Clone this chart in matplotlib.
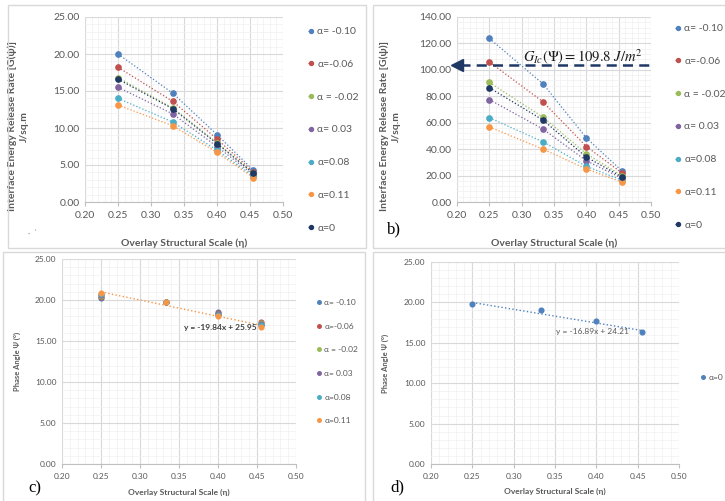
import matplotlib
matplotlib.use("Agg")
import matplotlib.pyplot as plt
from matplotlib.patches import Rectangle
from matplotlib.ticker import MultipleLocator, FormatStrFormatter

plt.rcParams['font.family'] = ['Lato', 'DejaVu Sans']
plt.rcParams['mathtext.fontset'] = 'stix'

# overlay structural scale (eta)
eta = [0.25, 0.333, 0.40, 0.455]

labels = ['α= -0.10', 'α=-0.06', 'α = -0.02', 'α= 0.03', 'α=0.08', 'α=0.11', 'α=0']
colors = ['#4F81BD', '#C0504D', '#9BBB59', '#8064A2', '#4BACC6', '#F79646', '#1F3864']

# a) G(psi), first loading case
g_a = [
    [20.0, 14.7, 9.1, 4.3],
    [18.2, 13.6, 8.5, 4.1],
    [16.8, 12.7, 8.0, 3.9],
    [15.5, 11.9, 7.5, 3.7],
    [14.0, 10.8, 7.0, 3.5],
    [13.1, 10.3, 6.7, 3.3],
    [16.6, 12.6, 7.9, 3.9],
]
# b) G(psi), second loading case
g_b = [
    [123.8, 89.4, 48.5, 23.5],
    [106.0, 75.8, 42.0, 22.0],
    [90.5, 64.2, 36.5, 20.0],
    [77.5, 55.2, 31.2, 18.0],
    [63.8, 45.5, 27.0, 16.5],
    [56.8, 40.0, 25.0, 15.0],
    [86.5, 62.0, 34.0, 19.0],
]
g_ic = 103.5
g_ic_label = r'$G_{Ic}(\Psi) = 109.8\ J/m^2$'

# c) phase angle, six alpha values
psi_c = [
    [20.3, 19.7, 18.5, 17.0],
    [20.4, 19.8, 18.4, 17.3],
    [20.5, 19.8, 18.3, 17.2],
    [20.6, 19.8, 18.3, 17.1],
    [20.7, 19.8, 18.2, 17.0],
    [20.8, 19.8, 18.1, 16.7],
]
trend_c = (-19.84, 25.95)
# d) phase angle, alpha = 0
psi_d = [19.75, 19.0, 17.65, 16.3]
trend_d = (-16.89, 24.21)

W, H = 725, 501
fig = plt.figure(figsize=(W / 100, H / 100), dpi=100)

def fbox(x0, y0, x1, y1):
    return [x0 / W, 1 - y1 / H, (x1 - x0) / W, (y1 - y0) / H]

# light panel frames
for x0, y0, x1, y1 in [(8, 5, 366, 248), (373, 5, 740, 248), (3, 252, 365, 520), (373, 252, 740, 520)]:
    fig.patches.append(Rectangle((x0 / W, 1 - y1 / H), (x1 - x0) / W, (y1 - y0) / H,
                                 transform=fig.transFigure, fill=False,
                                 edgecolor='#D9D9D9', lw=1.0, zorder=0))

TXT = '#595959'


def style(ax, ymax, ymaj, ymin, fs):
    ax.set_xlim(0.2, 0.5)
    ax.set_ylim(0, ymax)
    ax.xaxis.set_major_locator(MultipleLocator(0.05))
    ax.xaxis.set_minor_locator(MultipleLocator(0.01))
    ax.yaxis.set_major_locator(MultipleLocator(ymaj))
    ax.yaxis.set_minor_locator(MultipleLocator(ymin))
    ax.xaxis.set_major_formatter(FormatStrFormatter('%.2f'))
    ax.yaxis.set_major_formatter(FormatStrFormatter('%.2f'))
    ax.grid(which='major', color='#D9D9D9', lw=0.8)
    ax.grid(which='minor', color='#F0F0F0', lw=0.5)
    ax.set_axisbelow(True)
    for s in ['top', 'right', 'left']:
        ax.spines[s].set_visible(False)
    ax.spines['bottom'].set_color('#BFBFBF')
    ax.tick_params(axis='x', which='major', length=3, color='#BFBFBF', labelsize=fs, labelcolor=TXT)
    ax.tick_params(axis='y', which='major', length=0, labelsize=fs, labelcolor=TXT, pad=4)
    ax.tick_params(which='minor', length=0)


def legend(ax, x, y, fs, spacing):
    ax.legend(loc='upper left', bbox_to_anchor=(x / W, 1 - y / H), bbox_transform=fig.transFigure,
              frameon=False, fontsize=fs, labelcolor=TXT, handlelength=0.5, handletextpad=0.4,
              labelspacing=spacing, borderpad=0, borderaxespad=0, markerscale=0.75)


xlab = 'Overlay Structural Scale (η)'
glab = 'Interface Energy Release Rate [G(ψ)]\nJ/sq.m'

# ---- a)
ax = fig.add_axes(fbox(85, 17, 283, 202))
for vals, c, lab in zip(g_a, colors, labels):
    ax.plot(eta, vals, ls=':', lw=0.9, color=c, marker='o', ms=3.8, label=lab)
style(ax, 25, 5, 1, 7.5)
ax.set_xlabel(xlab, fontsize=7.5, fontweight='bold', color=TXT)
ax.xaxis.set_label_coords(0.5, -0.195)
ax.set_ylabel(glab, fontsize=7.5, fontweight='bold', color=TXT, linespacing=1.4)
ax.yaxis.set_label_coords(-0.285, 0.41)
legend(ax, 308, 27, 7.5, 2.25)
fig.text(28 / W, 1 - 236 / H, '·  ˈ', fontsize=6, color='#7F7F7F')

# ---- b)
ax = fig.add_axes(fbox(457, 17, 651, 202))
for vals, c, lab in zip(g_b, colors, labels):
    ax.plot(eta, vals, ls=':', lw=0.9, color=c, marker='o', ms=3.8, label=lab)
style(ax, 140, 20, 4, 7.5)
ax.plot([0.205, 0.5], [g_ic, g_ic], ls=(0, (4, 2.5)), lw=1.8, color='#1F3864', clip_on=False, zorder=5)
ax.plot([0.2], [g_ic], marker='<', ms=8, color='#1F3864', clip_on=False, zorder=5)
ax.text(0.302, 110, g_ic_label, fontsize=10.5, color='#1a1a1a', va='center', ha='left', zorder=6)
ax.set_xlabel(xlab, fontsize=7.5, fontweight='bold', color=TXT)
ax.xaxis.set_label_coords(0.5, -0.195)
ax.set_ylabel(glab, fontsize=7.5, fontweight='bold', color=TXT, linespacing=1.4)
ax.yaxis.set_label_coords(-0.29, 0.41)
legend(ax, 675, 24, 7.5, 2.25)
fig.text(387 / W, 1 - 229 / H, 'b)', fontsize=12, family='Liberation Serif', va='center')

# ---- c)
ax = fig.add_axes(fbox(62, 259, 296, 464))
for vals, c, lab in zip(psi_c, colors, labels[:6]):
    ax.plot(eta, vals, ls='none', color=c, marker='o', ms=3.4, label=lab)
m, b = trend_c
ax.plot([eta[0], eta[-1]], [m * eta[0] + b, m * eta[-1] + b], ls=':', lw=1.0, color=colors[5], zorder=1)
style(ax, 25, 5, 1, 6)
ax.text(0.356, 16.7, 'y = -19.84x + 25.95', fontsize=6, fontweight='bold', color='#404040', va='center')
ax.set_xlabel(xlab, fontsize=6, fontweight='bold', color=TXT)
ax.xaxis.set_label_coords(0.5, -0.12)
ax.set_ylabel('Phase Angle Ψ (°)', fontsize=5.5, fontweight='bold', color=TXT)
ax.yaxis.set_label_coords(-0.175, 0.5)
legend(ax, 317, 299, 6, 2.0)
fig.text(28 / W, 1 - 488 / H, 'c)', fontsize=12, family='Liberation Serif', va='center')

# ---- d)
ax = fig.add_axes(fbox(431, 262, 679, 464))
ax.plot(eta, psi_d, ls='none', color=colors[0], marker='o', ms=3.4, label='α=0')
m, b = trend_d
ax.plot([eta[0], eta[-1]], [m * eta[0] + b, m * eta[-1] + b], ls=':', lw=1.0, color=colors[0], zorder=1)
style(ax, 25, 5, 1, 6)
ax.text(0.351, 16.45, 'y = -16.89x + 24.21', fontsize=6, color=TXT, va='center')
ax.set_xlabel(xlab, fontsize=6, fontweight='bold', color=TXT)
ax.xaxis.set_label_coords(0.5, -0.12)
ax.set_ylabel('Phase Angle Ψ (°)', fontsize=5.5, fontweight='bold', color=TXT)
ax.yaxis.set_label_coords(-0.17, 0.5)
legend(ax, 701, 374, 6, 2.0)
fig.text(390 / W, 1 - 487 / H, 'd)', fontsize=12, family='Liberation Serif', va='center')

fig.savefig('out.png', dpi=100)
